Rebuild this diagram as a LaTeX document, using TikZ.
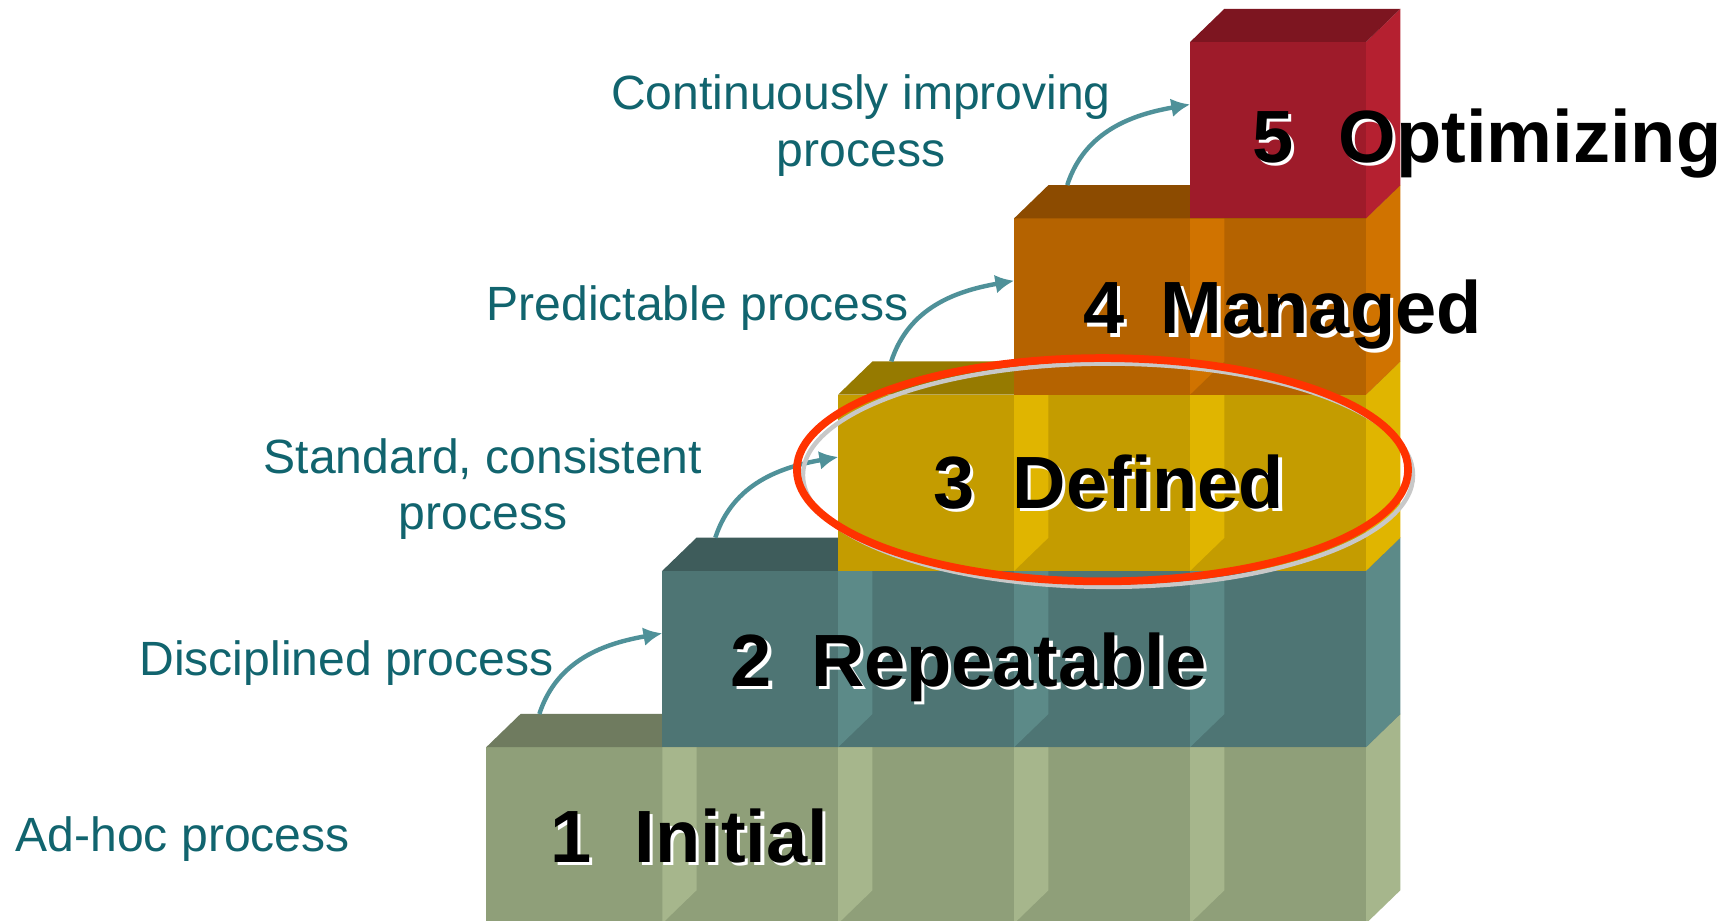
\documentclass[tikz,border=0pt]{standalone}
\usepackage{fontspec}
\setmainfont{Liberation Sans}
\usetikzlibrary{arrows.meta,calc}

% face colours: front / light side / dark top for each level
\definecolor{lvAf}{HTML}{8F9F79}\definecolor{lvAs}{HTML}{A6B68C}\definecolor{lvAt}{HTML}{6F7B5F}
\definecolor{lvBf}{HTML}{4E7574}\definecolor{lvBs}{HTML}{5C8A88}\definecolor{lvBt}{HTML}{3E5C5B}
\definecolor{lvCf}{HTML}{C49C00}\definecolor{lvCs}{HTML}{E0B500}\definecolor{lvCt}{HTML}{967A00}
\definecolor{lvDf}{HTML}{B56300}\definecolor{lvDs}{HTML}{D07300}\definecolor{lvDt}{HTML}{8C4B00}
\definecolor{lvEf}{HTML}{9E1B2A}\definecolor{lvEs}{HTML}{B52030}\definecolor{lvEt}{HTML}{7D1520}
\definecolor{desccol}{HTML}{11646E}
\definecolor{arrowcol}{HTML}{4F9199}
\definecolor{ringred}{HTML}{FF3300}
\definecolor{ringgrey}{HTML}{C8C8C8}

% text with a white drop shadow to the lower right
\newcommand\shtxt[1]{\rlap{\kern3pt\raisebox{-3pt}{\textcolor{white}{#1}}}#1}

\tikzset{
  desc/.style={text=desccol, font=\fontsize{43.5}{52}\selectfont, inner sep=0pt},
  lvl/.style={font=\fontsize{67}{80}\selectfont\bfseries, inner sep=0pt, anchor=base west},
  steparrow/.style={line width=4pt, draw=arrowcol, -{Latex[length=17pt,width=17pt]}},
}

\begin{document}
\begin{tikzpicture}[x=1pt,y=1pt]
\clip (0,0) rectangle (1568,833);
\fill[white] (0,0) rectangle (1568,833);

% the staircase of blocks, bottom level first
\foreach \r/\fc/\sc/\tc in {1/lvAf/lvAs/lvAt,2/lvBf/lvBs/lvBt,3/lvCf/lvCs/lvCt,4/lvDf/lvDs/lvDt,5/lvEf/lvEs/lvEt}{
  \pgfmathsetmacro\xl{440+(\r-1)*159.2}
  \pgfmathsetmacro\yb{-2.5+(\r-1)*159.5}
  \pgfmathsetmacro\yt{\yb+159.5}
  \fill[\fc] (\xl,\yb) rectangle (1236,\yt);
  \ifnum\r<5
    \foreach \c in {\r,...,4}{
      \pgfmathsetmacro\xs{440+\c*159.2}
      \fill[\sc] (\xs,\yt) -- (\xs+31,\yt) -- (\xs+31,\yb+30) -- (\xs,\yb) -- cycle;
    }
  \fi
  \fill[\sc] (1236,\yb) -- (1267,\yb+30) -- (1267,\yt+30) -- (1236,\yt) -- cycle;
  \fill[\tc] (\xl,\yt) -- (\xl+31,\yt+30) -- (1267,\yt+30) -- (1236,\yt) -- cycle;
}

% arrow end points
\coordinate (a1s) at (488,187);     \coordinate (a1e) at (599.2,260);
\coordinate (a2s) at (647.2,346.5); \coordinate (a2e) at (758.4,419.5);
\coordinate (a3s) at (806.4,506);   \coordinate (a3e) at (917.6,579);
\coordinate (a4s) at (965.6,665.5); \coordinate (a4e) at (1076.8,738.5);

\draw[steparrow] (a1s) to[out=72,in=190] (a1e);
\draw[steparrow] (a2s) to[out=72,in=190] (a2e);
\draw[steparrow] (a3s) to[out=72,in=190] (a3e);
\draw[steparrow] (a4s) to[out=72,in=190] (a4e);

% highlight ring round level 3
\coordinate (ellc) at (997.5,408);
\draw[ringgrey, line width=4pt] ($(ellc)+(5,-5)$) ellipse [x radius=276, y radius=101];
\draw[ringred, line width=7pt] (ellc) ellipse [x radius=276.5, y radius=101];

% level names
\node[lvl] (d1) at (498,53)  {\shtxt{1}};
\node[lvl] (w1) at (574,53)  {\shtxt{Initial}};
\node[lvl] (d2) at (661,212) {\shtxt{2}};
\node[lvl] (w2) at (734,212) {\shtxt{Repeatable}};
\node[lvl] (d3) at (844,373) {\shtxt{3}};
\node[lvl] (w3) at (916,373) {\shtxt{Defined}};
\node[lvl] (d4) at (980,531) {\shtxt{4}};
\node[lvl] (w4) at (1050,531) {\shtxt{Managed}};
\node[lvl] (d5) at (1133,686) {\shtxt{5}};
\node[lvl] (w5) at (1211,686) {\shtxt{Optimizing}};

% process descriptions
\node[desc, anchor=base west] (t1) at (14,63) {Ad-hoc process};
\node[desc, anchor=base west] (t2) at (126,222) {Disciplined process};
\node[desc, anchor=base] (t3a) at (437,405) {Standard, consistent};
\node[desc, anchor=base] (t3b) at (437,354) {process};
\node[desc, anchor=base west] (t4) at (440,543) {Predictable process};
\node[desc, anchor=base] (t5a) at (779,733.5) {Continuously improving};
\node[desc, anchor=base] (t5b) at (779,682) {process};
\end{tikzpicture}
\end{document}
